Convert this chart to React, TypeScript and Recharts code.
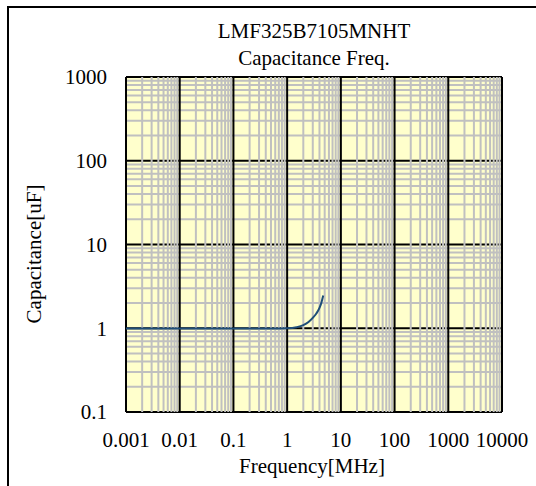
import { LineChart, Line, XAxis, YAxis, CartesianGrid } from 'recharts';

// capacitance vs frequency
const freqMHz = [0.001, 0.003, 0.01, 0.03, 0.1, 0.3, 0.6, 1, 1.5, 2, 2.5, 3, 3.5, 4, 4.3, 4.7];
const capUF = [0.995, 0.995, 0.995, 0.995, 0.995, 0.995, 0.995, 1.0, 1.03, 1.09, 1.19, 1.33, 1.5, 1.75, 1.98, 2.46];

const xTicks = [0.001, 0.01, 0.1, 1, 10, 100, 1000, 10000];
const yTicks = [0.1, 1, 10, 100, 1000];
const minorSteps = [2, 3, 4, 5, 6, 7, 8, 9];

const minorOf = (decades: number[]) =>
    decades.slice(0, -1).flatMap((d) => minorSteps.map((m) => d * m));

const xMinor = minorOf(xTicks);
const yMinor = minorOf(yTicks);

const data = freqMHz.map((f, i) => ({ f, c: capUF[i] }));

const FONT = 'Liberation Serif, Times New Roman, serif';
const W = 527;
const H = 478;

const App = () => {
    const tickStyle = { fill: '#000', fontSize: 21, fontFamily: FONT };

    return (
        <div
            style={{
                position: 'fixed',
                left: 7,
                top: 6,
                width: 529,
                height: 480,
                overflow: 'hidden',
                background: '#fff',
            }}
        >
            <div
                style={{
                    position: 'absolute',
                    left: 0,
                    top: 0,
                    width: 600,
                    height: 600,
                    borderLeft: '2px solid #000',
                    borderTop: '2px solid #000',
                }}
            />
            <div style={{ position: 'absolute', left: 2, top: 2, width: W, height: H }}>
                <LineChart width={W} height={H} data={data} margin={{ top: 69, right: 34, bottom: 44, left: 57 }}>
                    <CartesianGrid
                        vertical={false}
                        horizontalValues={yMinor}
                        stroke="#C0C0C0"
                        strokeWidth={2}
                        fill="#FFFFCC"
                        fillOpacity={1}
                    />
                    <CartesianGrid vertical={false} horizontalValues={yTicks} stroke="#000" strokeWidth={2} />
                    <CartesianGrid horizontal={false} verticalValues={xMinor} stroke="#C0C0C0" strokeWidth={2} />
                    <CartesianGrid horizontal={false} verticalValues={xTicks} stroke="#000" strokeWidth={2} />
                    <XAxis
                        dataKey="f"
                        type="number"
                        scale="log"
                        domain={[0.001, 10000]}
                        allowDataOverflow
                        ticks={xTicks}
                        interval={0}
                        tickFormatter={(v) => String(v)}
                        axisLine={false}
                        tickLine={false}
                        tickSize={0}
                        tickMargin={20}
                        height={30}
                        tick={tickStyle}
                    />
                    <YAxis
                        type="number"
                        scale="log"
                        domain={[0.1, 1000]}
                        allowDataOverflow
                        ticks={yTicks}
                        interval={0}
                        tickFormatter={(v) => String(v)}
                        axisLine={false}
                        tickLine={false}
                        tickSize={0}
                        tickMargin={19}
                        width={60}
                        tick={tickStyle}
                    />
                    <Line
                        dataKey="c"
                        type="monotone"
                        stroke="#1F4E79"
                        strokeWidth={2}
                        dot={false}
                        isAnimationActive={false}
                    />
                </LineChart>
                <svg
                    width={W}
                    height={H}
                    style={{ position: 'absolute', left: 0, top: 0, pointerEvents: 'none' }}
                    fontFamily={FONT}
                    fontSize={21}
                >
                    <text x={305} y={30} textAnchor="middle">LMF325B7105MNHT</text>
                    <text x={305} y={57} textAnchor="middle">Capacitance Freq.</text>
                    <text x={303} y={465} textAnchor="middle">Frequency[MHz]</text>
                    <text x={32} y={246} textAnchor="middle" transform="rotate(-90 32 246)">
                        Capacitance[uF]
                    </text>
                </svg>
            </div>
        </div>
    );
};

export default App;
